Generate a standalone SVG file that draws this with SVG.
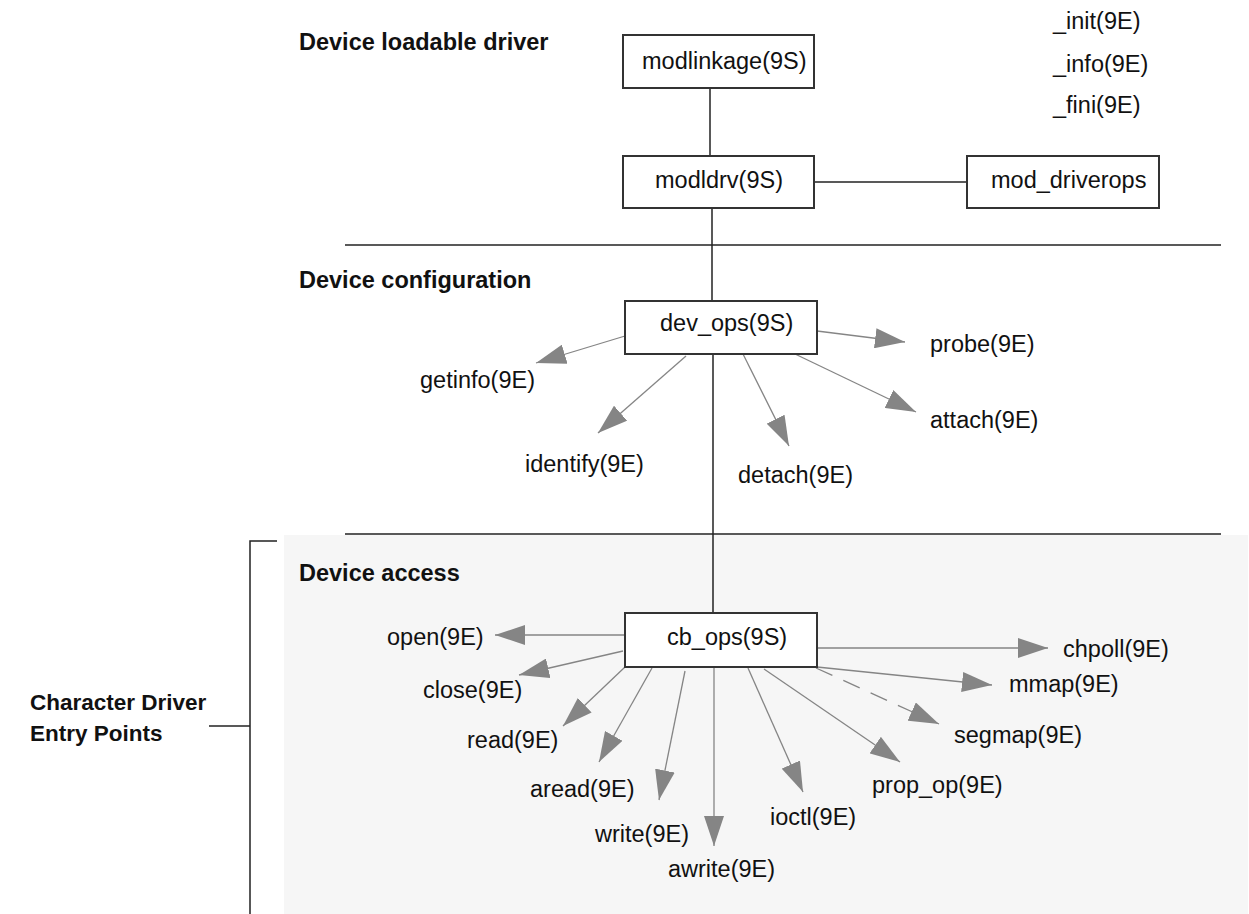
<svg xmlns="http://www.w3.org/2000/svg" width="1249" height="914" viewBox="0 0 1249 914">
<defs>
<style>
text{font-family:"Liberation Sans",Arial,sans-serif;font-size:23.5px;fill:#111}
.h{font-weight:bold}
.box{fill:#fff;stroke:#333;stroke-width:2}
.k{stroke:#222;stroke-width:1.5;fill:none}
.a{stroke:#858585;stroke-width:1.3;fill:none;marker-end:url(#ah)}
.d{stroke-dasharray:18 12}
</style>
<marker id="ah" markerUnits="userSpaceOnUse" markerWidth="30" markerHeight="20" viewBox="0 0 30 20" refX="30" refY="10" orient="auto">
<path d="M0,0 L30,10 L0,20 z" fill="#858585" stroke="none"/>
</marker>
</defs>
<rect width="1249" height="914" fill="#fff"/>
<rect x="284" y="535" width="964" height="379" fill="#f6f6f6"/>

<g id="section-lines">
<line class="k" x1="345" y1="245" x2="1221" y2="245"/>
<line class="k" x1="345" y1="534" x2="1221" y2="534"/>
<polyline class="k" points="277,541 250,541 250,914"/>
<line class="k" x1="209" y1="726" x2="250" y2="726"/>
</g>

<g id="headings">
<text class="h" x="299" y="50">Device loadable driver</text>
<text class="h" x="299" y="288">Device configuration</text>
<text class="h" x="299" y="581">Device access</text>
<text class="h" x="30" y="710" style="font-size:22.5px">Character Driver</text>
<text class="h" x="30" y="741" style="font-size:22.5px">Entry Points</text>
</g>

<g id="connectors">
<line class="k" x1="710" y1="88" x2="710" y2="156"/>
<line class="k" x1="814" y1="182" x2="967" y2="182"/>
<line class="k" x1="712" y1="208" x2="712" y2="301"/>
<line class="k" x1="713" y1="354" x2="713" y2="613"/>
<line class="a" x1="625" y1="336" x2="536" y2="363"/>
<line class="a" x1="686" y1="356" x2="598" y2="433"/>
<line class="a" x1="743" y1="354" x2="789" y2="446"/>
<line class="a" x1="795" y1="354" x2="916" y2="412"/>
<line class="a" x1="817" y1="331" x2="905" y2="342"/>
<line class="a" x1="625" y1="635" x2="495" y2="635"/>
<line class="a" x1="623" y1="651" x2="519" y2="675"/>
<line class="a" x1="625" y1="667" x2="563" y2="726"/>
<line class="a" x1="652" y1="668" x2="599" y2="762"/>
<line class="a" x1="685" y1="671" x2="659" y2="800"/>
<line class="a" x1="714" y1="668" x2="714" y2="846"/>
<line class="a" x1="748" y1="668" x2="803" y2="792"/>
<line class="a" x1="764" y1="669" x2="900" y2="762"/>
<line class="a d" x1="816" y1="668" x2="939" y2="724"/>
<line class="a" x1="817" y1="667" x2="992" y2="685"/>
<line class="a" x1="817" y1="648" x2="1048" y2="648"/>
</g>

<g id="modlinkage"><rect class="box" x="623" y="35" width="191" height="53"/><text x="642" y="69">modlinkage(9S)</text></g>
<g id="modldrv"><rect class="box" x="623" y="156" width="191" height="52"/><text x="655" y="188">modldrv(9S)</text></g>
<g id="mod_driverops"><rect class="box" x="967" y="156" width="192" height="52"/><text x="991" y="188">mod_driverops</text></g>
<g id="module-entry-points">
<text x="1053" y="29">_init(9E)</text>
<text x="1053" y="72">_info(9E)</text>
<text x="1053" y="113">_fini(9E)</text>
</g>

<g id="dev_ops"><rect class="box" x="625" y="301" width="192" height="53"/><text x="660" y="331">dev_ops(9S)</text></g>
<g id="getinfo"><text x="420" y="388">getinfo(9E)</text></g>
<g id="identify"><text x="525" y="472">identify(9E)</text></g>
<g id="detach"><text x="738" y="483">detach(9E)</text></g>
<g id="attach"><text x="930" y="428">attach(9E)</text></g>
<g id="probe"><text x="930" y="352">probe(9E)</text></g>

<g id="cb_ops"><rect class="box" x="625" y="613" width="192" height="54"/><text x="667" y="645">cb_ops(9S)</text></g>
<g id="open"><text x="387" y="645">open(9E)</text></g>
<g id="close"><text x="423" y="698">close(9E)</text></g>
<g id="read"><text x="467" y="748">read(9E)</text></g>
<g id="aread"><text x="530" y="797">aread(9E)</text></g>
<g id="write"><text x="595" y="842">write(9E)</text></g>
<g id="awrite"><text x="668" y="877">awrite(9E)</text></g>
<g id="ioctl"><text x="770" y="825">ioctl(9E)</text></g>
<g id="prop_op"><text x="872" y="793">prop_op(9E)</text></g>
<g id="segmap"><text x="954" y="743">segmap(9E)</text></g>
<g id="mmap"><text x="1009" y="692">mmap(9E)</text></g>
<g id="chpoll"><text x="1063" y="657">chpoll(9E)</text></g>
</svg>
